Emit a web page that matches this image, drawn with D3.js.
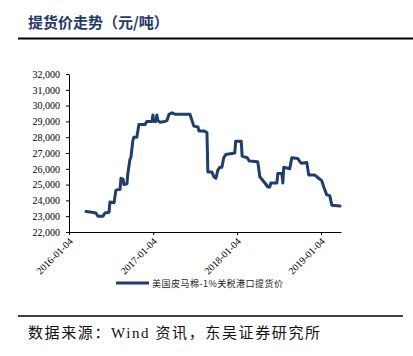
<!DOCTYPE html>
<html><head><meta charset="utf-8">
<script src="https://cdn.jsdelivr.net/npm/d3@7"></script>
<style>
html,body{margin:0;padding:0;background:#fff;}
svg{display:block;}
</style></head>
<body>
<svg id="c" width="413" height="356"></svg>
<script>
const titleText = "提货价走势（元/吨）";
const seriesName = "美国皮马棉-1%关税港口提货价";
const sourceText = "数据来源：Wind 资讯，东吴证券研究所";
const yTicks = [22000,23000,24000,25000,26000,27000,28000,29000,30000,31000,32000];
const xTickLabels = ["2016-01-04","2017-01-04","2018-01-04","2019-01-04"];
const dates = [
"2016-03-18","2016-04-13","2016-04-30","2016-05-09","2016-05-31","2016-06-08","2016-06-26","2016-06-30",
"2016-07-18","2016-07-26","2016-08-13","2016-08-17","2016-08-26","2016-08-30","2016-09-12","2016-09-16",
"2016-09-25","2016-09-29","2016-10-08","2016-10-12","2016-10-25","2016-11-03","2016-11-29","2016-12-08",
"2016-12-30","2017-01-03","2017-01-07","2017-01-16","2017-01-20","2017-01-25","2017-02-02","2017-02-24",
"2017-03-05","2017-03-14","2017-03-27","2017-04-09","2017-06-13","2017-06-30","2017-07-18","2017-07-22",
"2017-08-13","2017-08-26","2017-08-30","2017-09-16","2017-09-25","2017-10-04","2017-10-12","2017-10-21",
"2017-10-30","2017-11-07","2017-11-16","2017-12-25","2017-12-29","2018-01-22","2018-01-26","2018-02-17",
"2018-02-26","2018-04-04","2018-04-13","2018-05-05","2018-05-18","2018-05-26","2018-05-31","2018-06-26",
"2018-06-30","2018-07-18","2018-07-22","2018-07-26","2018-08-21","2018-08-30","2018-09-25","2018-10-04",
"2018-10-12","2018-11-03","2018-11-12","2018-12-08","2018-12-21","2019-01-07","2019-01-16","2019-01-29",
"2019-02-11","2019-02-20","2019-03-28"];
const prices = [
23300,23250,23200,23000,23000,23200,23250,23900,
23850,24650,24700,25400,25350,25000,25050,25700,
26600,26700,27800,28000,28000,28800,28800,29000,
29000,29400,29000,29000,29400,29050,28950,29000,
29050,29450,29550,29450,29450,28700,28650,28400,
28400,28300,25800,25800,25500,25400,25900,26100,
26100,26700,26900,27000,27750,27750,26800,26700,
26500,26450,25500,25100,24850,24850,25100,25100,
25700,25700,25100,26100,26000,26700,26650,26450,
26350,26400,25600,25600,25450,25250,24850,24350,
24300,23700,23650];

const parse = d3.timeParse("%Y-%m-%d");
const data = dates.map((d,i)=>({date:parse(d), v:prices[i]}));

const svg = d3.select("#c");
const lineColor = "#1f3d6d";

// title
svg.append("text").attr("x",28).attr("y",28)
  .attr("font-family","'Noto Sans CJK SC', sans-serif").attr("font-size",15).attr("font-weight","bold")
  .attr("fill","#243a68").text(titleText);
svg.append("line").attr("x1",18).attr("x2",413).attr("y1",38.5).attr("y2",38.5)
  .attr("stroke","#000").attr("stroke-width",2);

const x = d3.scaleTime().domain([parse("2016-01-04"), parse("2019-04-01")]).range([69,341]);
const y = d3.scaleLinear().domain([22000,32000]).range([232,74]);

// y axis
const ya = svg.append("g").attr("transform","translate(69,0)")
  .call(d3.axisLeft(y).tickValues(yTicks).tickFormat(d3.format(",")).tickSize(3).tickSizeOuter(0));
ya.selectAll("text").attr("font-family","'Liberation Serif', serif").attr("font-size",10).attr("fill","#000").attr("dx",-3);
ya.select(".domain").attr("stroke","#000");
ya.selectAll(".tick line").attr("stroke","#000");

// x axis
const xa = svg.append("g").attr("transform","translate(0,232)")
  .call(d3.axisBottom(x).tickValues(xTickLabels.map(parse)).tickFormat(d3.timeFormat("%Y-%m-%d")).tickSize(3).tickSizeOuter(0));
xa.select(".domain").attr("stroke","#000");
xa.selectAll(".tick line").attr("stroke","#000");
xa.selectAll("text").attr("font-family","'Liberation Serif', serif").attr("font-size",10).attr("fill","#000")
  .attr("text-anchor","end").attr("dx",0).attr("dy",0)
  .attr("transform","translate(4,10) rotate(-45)").attr("y",0).attr("x",0);

// line
const line = d3.line().x(d=>x(d.date)).y(d=>y(d.v));
svg.append("path").datum(data).attr("d",line).attr("fill","none")
  .attr("stroke",lineColor).attr("stroke-width",3).attr("stroke-linejoin","round").attr("stroke-linecap","round");

// legend
svg.append("line").attr("x1",116).attr("x2",149).attr("y1",283).attr("y2",283)
  .attr("stroke",lineColor).attr("stroke-width",3);
svg.append("text").attr("x",152).attr("y",286.5)
  .attr("font-family","'Noto Sans CJK SC', sans-serif").attr("font-size",9).attr("fill","#222")
  .attr("textLength",131).attr("lengthAdjust","spacing").text(seriesName);

// footer
svg.append("line").attr("x1",18).attr("x2",403).attr("y1",316).attr("y2",316)
  .attr("stroke","#000").attr("stroke-width",1.5);
svg.append("text").attr("x",28).attr("y",338)
  .attr("font-family","'Liberation Serif','Noto Sans CJK SC', serif").attr("font-size",15).attr("fill","#111")
  .attr("textLength",292).attr("lengthAdjust","spacing").text(sourceText);
</script>
</body></html>
